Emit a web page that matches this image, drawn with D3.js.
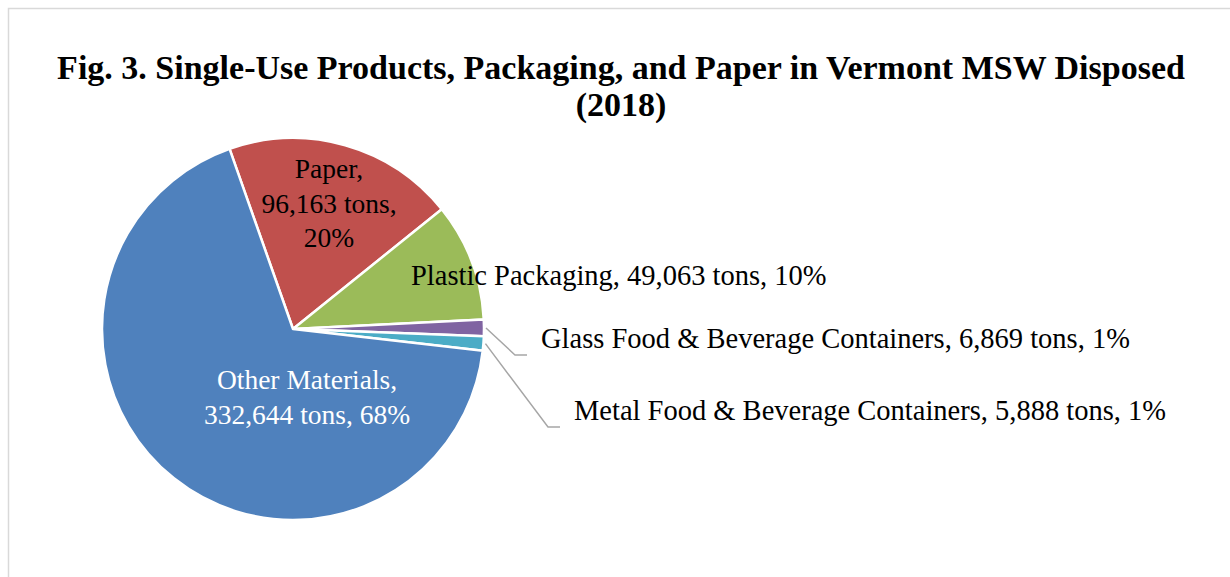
<!DOCTYPE html>
<html>
<head>
<meta charset="utf-8">
<script src="https://cdn.jsdelivr.net/npm/d3@7"></script>
<style>
  body { margin: 0; background: #fff; }
  text { font-family: "Liberation Serif", "DejaVu Serif", serif; }
</style>
</head>
<body>
<script>
// data
const categories = ["Paper", "Plastic Packaging", "Glass Food & Beverage Containers", "Metal Food & Beverage Containers", "Other Materials"];
const tons = [96163, 49063, 6869, 5888, 332644];
const percents = ["20%", "10%", "1%", "1%", "68%"];
const colors = ["#c0504d", "#9bbb59", "#8064a2", "#4bacc6", "#4f81bd"];
const titleLines = ["Fig. 3. Single-Use Products, Packaging, and Paper in Vermont MSW Disposed", "(2018)"];

// label layout (offsets from pie centre)
const labelLayout = [
    { dx: 36, dy: -151, anchor: "middle", fill: "#000", size: 27.5 },
    { dx: 118, dy: -44, anchor: "start", fill: "#000", size: 28.5 },
    { dx: 248, dy: 19, anchor: "start", fill: "#000", size: 28.5, leader: true },
    { dx: 281, dy: 91, anchor: "start", fill: "#000", size: 28.5, leader: true },
    { dx: 14, dy: 60, anchor: "middle", fill: "#fff", size: 27.5 }
];

const W = 1230, H = 577;
const cx = 293, cy = 329, r = 191;
const lineH = 34.5;

let svg = d3.select("body")
    .append("svg")
    .attr("width", W)
    .attr("height", H);

// chart border
svg.append("rect")
    .attr("x", 8.5).attr("y", 8.5)
    .attr("width", 1240).attr("height", 600)
    .attr("fill", "#fff")
    .attr("stroke", "#d9d9d9")
    .attr("stroke-width", 1.5);

// title
svg.append("text")
    .attr("x", 621)
    .attr("y", 79)
    .attr("text-anchor", "middle")
    .attr("font-weight", "bold")
    .attr("font-size", 34)
    .selectAll("tspan")
    .data(titleLines)
    .enter()
    .append("tspan")
    .attr("x", 621)
    .attr("dy", (d, i) => i === 0 ? 0 : 37)
    .text(d => d);

let pie = d3.pie()
    .sort(null)
    .startAngle(-19.4 * Math.PI / 180)
    .endAngle((360 - 19.4) * Math.PI / 180);

let arcs = pie(tons);

let arc = d3.arc()
    .innerRadius(0)
    .outerRadius(r);

let g = svg.append("g")
    .attr("transform", `translate(${cx},${cy})`);

g.selectAll("path")
    .data(arcs)
    .enter()
    .append("path")
    .attr("d", arc)
    .attr("fill", (d, i) => colors[i])
    .attr("stroke", "#fff")
    .attr("stroke-width", 2.5)
    .attr("stroke-linejoin", "round");

const fmt = d3.format(",");

function labelLines(i) {
    let name = categories[i], val = fmt(tons[i]) + " tons", p = percents[i];
    if (i === 0) return [name + ",", val + ",", p];
    if (i === 4) return [name + ",", val + ", " + p];
    return [name + ", " + val + ", " + p];
}

// leader lines for the thin slices
let outerPt = d3.arc().innerRadius(r + 2).outerRadius(r + 2);
arcs.forEach((d, i) => {
    let lay = labelLayout[i];
    if (!lay.leader) return;
    let p0 = outerPt.centroid(d);
    let tx = lay.dx, ty = lay.dy;
    let elbow = [tx - 26, ty + 7];
    let end = [tx - 14, ty + 7];
    g.append("polyline")
        .attr("points", [p0, elbow, end].map(p => p.join(",")).join(" "))
        .attr("fill", "none")
        .attr("stroke", "#a6a6a6")
        .attr("stroke-width", 1.5);
});

// data labels
arcs.forEach((d, i) => {
    let lay = labelLayout[i];
    let t = g.append("text")
        .attr("x", lay.dx)
        .attr("y", lay.dy)
        .attr("text-anchor", lay.anchor)
        .attr("font-size", lay.size)
        .attr("fill", lay.fill);
    t.selectAll("tspan")
        .data(labelLines(i))
        .enter()
        .append("tspan")
        .attr("x", lay.dx)
        .attr("dy", (s, j) => j === 0 ? 0 : lineH)
        .text(s => s);
});
</script>
</body>
</html>
